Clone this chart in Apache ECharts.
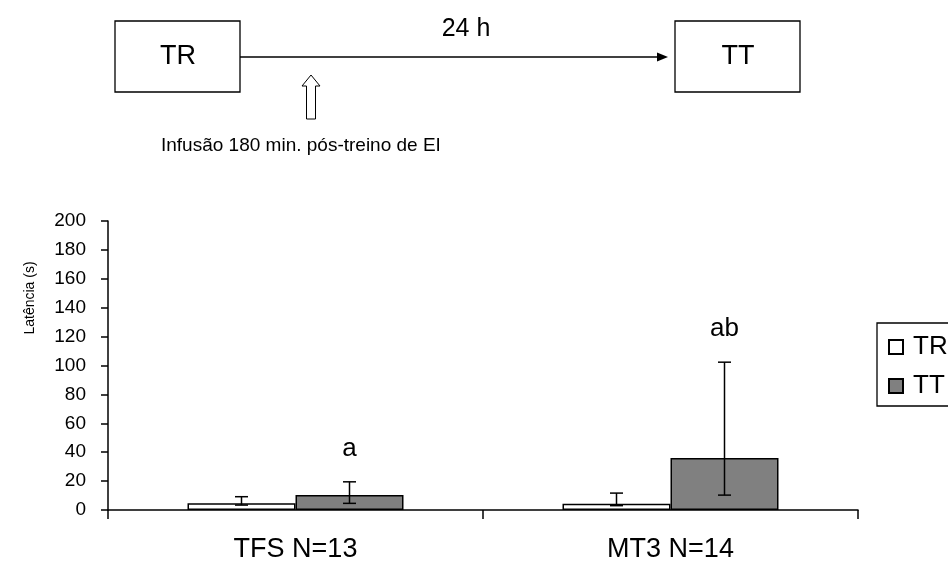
<!DOCTYPE html>
<html>
<head>
<meta charset="utf-8">
<script src="https://cdn.jsdelivr.net/npm/echarts@6/dist/echarts.min.js"></script>
<style>
html,body{margin:0;padding:0;background:#fff;}
#chart{width:948px;height:563px;}
</style>
</head>
<body>
<div id="chart"></div>
<script>
// ---- data ----
const categories = ['TFS N=13', 'MT3 N=14'];
const seriesNames = ['TR', 'TT'];
const trMean = [4.6, 4.4];
const trErrLow = [3.4, 3.0];
const trErrHigh = [9.2, 11.7];
const ttMean = [10.3, 35.9];
const ttErrLow = [4.6, 10.3];
const ttErrHigh = [19.5, 102.3];
const sigLabels = ['a', 'ab'];
const yMin = 0, yMax = 200, yInterval = 20;

const FONT = '"Liberation Sans", Arial, sans-serif';
const BAR_FRAC = 0.288;

function errSeries(name, low, high, sign, labels) {
  return {
    type: 'custom',
    name: name + '_err',
    z: 5,
    silent: true,
    data: categories.map((c, i) => [i, low[i], high[i]]),
    encode: { x: 0, y: [1, 2] },
    renderItem: function (params, api) {
      const idx = api.value(0);
      const band = api.size([1, 0])[0];
      const off = sign * band * BAR_FRAC / 2;
      const pLow = api.coord([idx, api.value(1)]);
      const pHigh = api.coord([idx, api.value(2)]);
      const x = pLow[0] + off;
      const hw = 6.5;
      const style = { stroke: '#000', lineWidth: 1.5 };
      const children = [
        { type: 'line', shape: { x1: x, y1: pLow[1], x2: x, y2: pHigh[1] }, style: style },
        { type: 'line', shape: { x1: x - hw, y1: pLow[1], x2: x + hw, y2: pLow[1] }, style: style },
        { type: 'line', shape: { x1: x - hw, y1: pHigh[1], x2: x + hw, y2: pHigh[1] }, style: style }
      ];
      if (labels) {
        children.push({
          type: 'text',
          style: { text: labels[params.dataIndex], x: x, y: pHigh[1] - 33, align: 'center', verticalAlign: 'middle', font: '26px ' + FONT, fill: '#000' }
        });
      }
      return { type: 'group', children: children };
    }
  };
}

const chart = echarts.init(document.getElementById('chart'));
chart.setOption({
  animation: false,
  backgroundColor: '#fff',
  grid: { left: 108, right: 90, top: 221, bottom: 52, containLabel: false },
  legend: {
    orient: 'vertical',
    left: 877,
    top: 323,
    data: seriesNames,
    icon: 'rect',
    itemWidth: 14,
    itemHeight: 14,
    itemGap: 13,
    padding: [11, 40, 7, 11],
    borderColor: '#000',
    borderWidth: 1.3,
    textStyle: { fontFamily: FONT, fontSize: 26, color: '#000', padding: [0, 0, 0, 5] }
  },
  xAxis: {
    type: 'category',
    data: categories,
    axisLine: { lineStyle: { color: '#000', width: 1.5 } },
    axisTick: { show: true, alignWithLabel: false, length: 9, lineStyle: { color: '#000', width: 1.5 } },
    axisLabel: { fontFamily: FONT, fontSize: 27, color: '#000', margin: 26 }
  },
  yAxis: {
    type: 'value',
    min: yMin,
    max: yMax,
    interval: yInterval,
    axisLine: { show: true, lineStyle: { color: '#000', width: 1.5 } },
    axisTick: { show: true, length: 7, lineStyle: { color: '#000', width: 1.5 } },
    splitLine: { show: false },
    axisLabel: { fontFamily: FONT, fontSize: 19, color: '#000', margin: 22 }
  },
  series: [
    {
      name: 'TR', type: 'bar', data: trMean, barWidth: (BAR_FRAC * 100) + '%', barGap: '0%',
      itemStyle: { color: '#ffffff', borderColor: '#000', borderWidth: 1.5 }
    },
    {
      name: 'TT', type: 'bar', data: ttMean, barWidth: (BAR_FRAC * 100) + '%', barGap: '0%',
      itemStyle: { color: '#808080', borderColor: '#000', borderWidth: 1.5 }
    },
    errSeries('TR', trErrLow, trErrHigh, -1, null),
    errSeries('TT', ttErrLow, ttErrHigh, 1, sigLabels)
  ],
  graphic: [
    { type: 'text', style: { text: 'Latência (s)', x: 0, y: 0, align: 'center', verticalAlign: 'middle', font: '14px ' + FONT, fill: '#000' }, x: 30, y: 298, rotation: Math.PI / 2 },
    // top diagram
    { type: 'rect', shape: { x: 115, y: 21, width: 125, height: 71 }, style: { fill: '#fff', stroke: '#000', lineWidth: 1.3 } },
    { type: 'rect', shape: { x: 675, y: 21, width: 125, height: 71 }, style: { fill: '#fff', stroke: '#000', lineWidth: 1.3 } },
    { type: 'text', style: { text: 'TR', x: 178, y: 57, align: 'center', verticalAlign: 'middle', font: '27px ' + FONT, fill: '#000' } },
    { type: 'text', style: { text: 'TT', x: 738, y: 57, align: 'center', verticalAlign: 'middle', font: '27px ' + FONT, fill: '#000' } },
    { type: 'text', style: { text: '24 h', x: 466, y: 29, align: 'center', verticalAlign: 'middle', font: '25px ' + FONT, fill: '#000' } },
    { type: 'line', shape: { x1: 240, y1: 57, x2: 660, y2: 57 }, style: { stroke: '#000', lineWidth: 1.3 } },
    { type: 'polygon', shape: { points: [[668, 57], [657, 52.5], [657, 61.5]] }, style: { fill: '#000' } },
    { type: 'polygon', shape: { points: [[311, 75], [320, 86], [315.5, 86], [315.5, 119], [306.5, 119], [306.5, 86], [302, 86]] }, style: { fill: '#fff', stroke: '#000', lineWidth: 1 } },
    { type: 'text', style: { text: 'Infusão 180 min. pós-treino de EI', x: 161, y: 146, align: 'left', verticalAlign: 'middle', font: '19px ' + FONT, fill: '#000' } }
  ]
});
</script>
</body>
</html>
